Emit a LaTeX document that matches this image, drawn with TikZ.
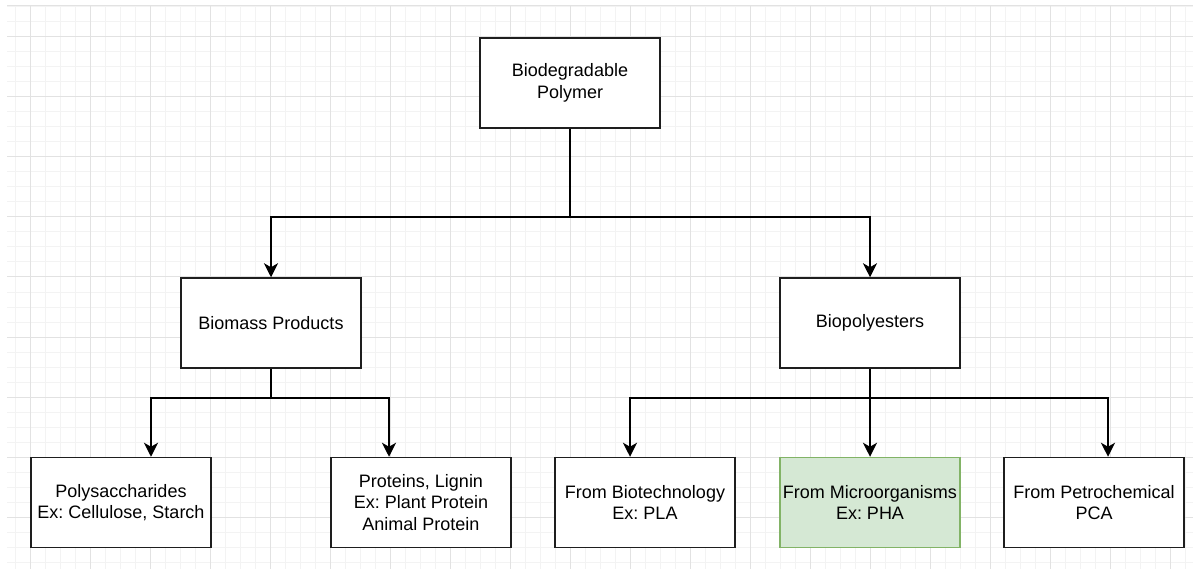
\documentclass[tikz,border=0pt]{standalone}
\usepackage{fontspec}
\setmainfont{Liberation Sans}
\frenchspacing
\usetikzlibrary{arrows.meta}
\definecolor{gridminor}{HTML}{F3F3F3}
\definecolor{gridmajor}{HTML}{E2E2E2}
\definecolor{boxline}{HTML}{1E1E1E}
\definecolor{greenfill}{HTML}{D5E8D4}
\definecolor{greenline}{HTML}{82B366}
\tikzset{
  box/.style={draw=boxline, line width=1.5pt, fill=white, minimum width=180pt, minimum height=90pt,
    inner sep=0pt, align=center, font=\fontsize{18}{21.5}\selectfont\frenchspacing, text=black},
  greenbox/.style={box, draw=greenline, fill=greenfill},
  conn/.style={draw=black, line width=1.6pt},
  arr/.style={conn, -{Stealth[length=14pt,width=14pt,inset=4pt]}},
}
\begin{document}
\begin{tikzpicture}[x=1pt,y=-1pt]
\useasboundingbox (0,0) rectangle (1196,569);
\fill[white] (0,0) rectangle (1196,569);
% grid
\foreach \x in {15,30,...,1185} \draw[gridminor, line width=1pt] (\x,6) -- (\x,569);
\foreach \y in {7,22,...,562} \draw[gridminor, line width=1pt] (7,\y) -- (1193,\y);
\foreach \x in {30,90,...,1170} \draw[gridmajor, line width=1pt] (\x,6) -- (\x,569);
\foreach \y in {37,97,...,517} \draw[gridmajor, line width=1pt] (7,\y) -- (1193,\y);
\draw[gridmajor, line width=1pt] (7,6) -- (1193,6);
% nodes
\node[box] (top) at (570,83) {Biodegradable\\Polymer};
\node[box] (biomass) at (271,323) {Biomass Products};
\node[box] (biopoly) at (870,323) {Biopolyesters};
\node[box] (poly) at (121,502.5) {Polysaccharides\\Ex: Cellulose, Starch};
\node[box] (prot) at (421,502.5) {Proteins, Lignin\\Ex: Plant Protein\\Animal Protein};
\node[box] (pla) at (645,502.5) {From Biotechnology\\Ex: PLA};
\node[greenbox] (pha) at (870,502.5) {From Microorganisms\\Ex: PHA};
\node[box] (pca) at (1094,502.5) {From Petrochemical\\PCA};
% connectors
\coordinate (j1) at (570,217);
\coordinate (j2) at (271,398);
\coordinate (j3) at (870,398);
\draw[conn] (top.south) -- (j1);
\draw[arr] (j1) -| (biomass.north);
\draw[arr] (j1) -| (biopoly.north);
\draw[conn] (biomass.south) -- (j2);
\draw[arr] (j2) -| ([xshift=30pt]poly.north);
\draw[arr] (j2) -| ([xshift=-32pt]prot.north);
\draw[conn] (biopoly.south) -- (j3);
\draw[arr] (j3) -| ([xshift=-15pt]pla.north);
\draw[arr] (j3) -- (pha.north);
\draw[arr] (j3) -| ([xshift=14pt]pca.north);
\end{tikzpicture}
\end{document}
